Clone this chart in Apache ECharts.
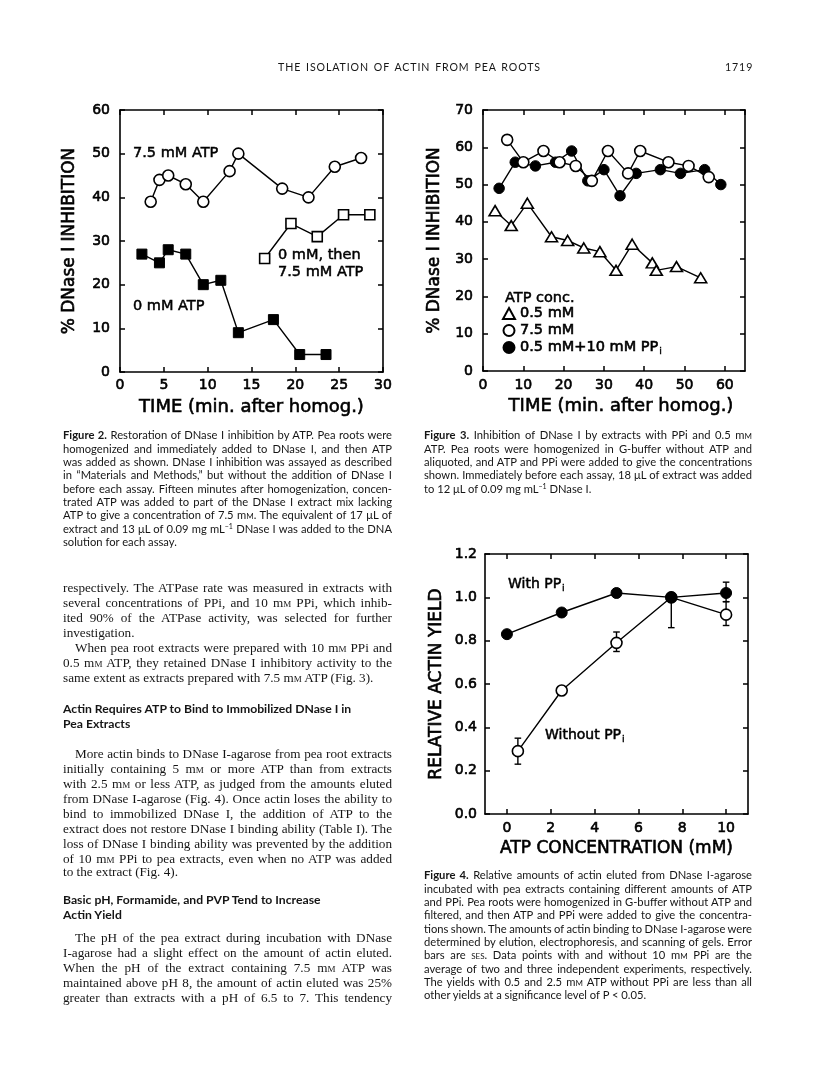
<!DOCTYPE html>
<html><head><meta charset="utf-8">
<script src="https://cdn.jsdelivr.net/npm/echarts@6/dist/echarts.min.js"></script>
<style>
html,body{margin:0;padding:0;background:#fff;}
#chart{position:absolute;left:0;top:0;width:816px;height:1073px;}
.t{position:absolute;white-space:nowrap;color:#151515;}
.cap{font-family:Lato,sans-serif;font-size:11.2px;}
.body{font-family:"Liberation Serif",serif;font-size:13.2px;}
.hd{font-family:Lato,sans-serif;font-weight:bold;font-size:12.2px;}
.run{font-family:Lato,sans-serif;font-size:10.6px;letter-spacing:0.9px;}
.sc{font-variant:small-caps;}
sup{font-size:7px;vertical-align:4px;line-height:0;}
</style></head><body>
<div id="chart"></div>
<div id="text"></div>
<script>
// ---------------- DATA ----------------
// Figure 2: % DNase I inhibition vs time (min after homogenization)
const fig2X_atp75 = [3.5, 4.5, 5.5, 7.5, 9.5, 12.5, 13.5, 18.5, 21.5, 24.5, 27.5];
const fig2Y_atp75 = [39, 44, 45, 43, 39, 46, 50, 42, 40, 47, 49];
const fig2X_then75 = [16.5, 19.5, 22.5, 25.5, 28.5];
const fig2Y_then75 = [26, 34, 31, 36, 36];
const fig2X_atp0 = [2.5, 4.5, 5.5, 7.5, 9.5, 11.5, 13.5, 17.5, 20.5, 23.5];
const fig2Y_atp0 = [27, 25, 28, 27, 20, 21, 9, 12, 4, 4];

// Figure 3: % DNase I inhibition vs time
const fig3X_atp05 = [3, 7, 11, 17, 21, 25, 29, 33, 37, 42, 43, 48, 54];
const fig3Y_atp05 = [43, 39, 45, 36, 35, 33, 32, 27, 34, 29, 27, 28, 25];
const fig3X_atp75 = [6, 10, 15, 19, 23, 27, 31, 36, 39, 46, 51, 56];
const fig3Y_atp75 = [62, 56, 59, 56, 55, 51, 59, 53, 59, 56, 55, 52];
const fig3X_ppi = [4, 8, 13, 18, 22, 26, 30, 34, 38, 44, 49, 55, 59];
const fig3Y_ppi = [49, 56, 55, 56, 59, 51, 54, 47, 53, 54, 53, 54, 50];
const fig3Legend = ['0.5 mM', '7.5 mM', '0.5 mM+10 mM PPi'];

// Figure 4: relative actin yield vs ATP concentration (mM)
const fig4X_with = [0, 2.5, 5, 7.5, 10];
const fig4Y_with = [0.83, 0.93, 1.02, 1.00, 1.02];
const fig4ErrLow_with = [null, null, null, null, 0.98];
const fig4ErrHigh_with = [null, null, null, null, 1.07];
const fig4X_without = [0.5, 2.5, 5, 7.5, 10];
const fig4Y_without = [0.29, 0.57, 0.79, 1.00, 0.92];
const fig4ErrLow_without = [0.23, null, 0.75, 0.86, 0.87];
const fig4ErrHigh_without = [0.35, null, 0.84, 1.00, 0.98];
const fig4XTicks = [0, 2, 4, 6, 8, 10];

// ---------------- CHART ----------------
const BLACK = '#000';
const FONT = 'DejaVu Sans';
const THICK = {textBorderColor: BLACK, textBorderWidth: 0.6};
const frameLine = {show: true, onZero: false, lineStyle: {color: BLACK, width: 1.6}};
const inTick = {show: true, inside: true, length: 5, lineStyle: {color: BLACK, width: 1.5}};

function axisPair(dim, gridIndex, cfg) {
  const tick = Object.assign({}, inTick, cfg.tick || {});
  const main = Object.assign({
    type: 'value', gridIndex: gridIndex, position: dim === 'x' ? 'bottom' : 'left',
    axisLine: frameLine, axisTick: tick, splitLine: {show: false},
    axisLabel: Object.assign({show: true, color: BLACK, fontFamily: FONT, fontSize: 14, margin: cfg.margin}, THICK, cfg.label || {}),
    name: cfg.name, nameLocation: 'middle', nameGap: cfg.nameGap,
    nameTextStyle: Object.assign({color: BLACK, fontFamily: FONT, fontSize: cfg.nameSize, padding: cfg.namePad || 0}, THICK)
  }, cfg.scale);
  const mirror = Object.assign({
    type: 'value', gridIndex: gridIndex, position: dim === 'x' ? 'top' : 'right',
    axisLine: frameLine, axisTick: tick, splitLine: {show: false}, axisLabel: {show: false}
  }, cfg.scale);
  return [main, mirror];
}

const hollow = {color: '#fff', borderColor: BLACK, borderWidth: 1.6};
const solid = {color: BLACK, borderColor: BLACK, borderWidth: 1};
const lineSt = {color: BLACK, width: 1.4};

function lineSeries(name, xs, ys, axisIdx, symbol, size, itemStyle) {
  return {
    type: 'line', name: name, xAxisIndex: axisIdx, yAxisIndex: axisIdx,
    data: xs.map((x, i) => [x, ys[i]]), symbol: symbol, symbolSize: size, showAllSymbol: true,
    itemStyle: itemStyle, lineStyle: lineSt, animation: false, emphasis: {disabled: true}, z: 3
  };
}

function errData(xs, lo, hi) {
  const out = [];
  xs.forEach((x, i) => { if (lo[i] != null) out.push([x, lo[i], hi[i]]); });
  return out;
}

function renderErr(params, api) {
  const a = api.coord([api.value(0), api.value(1)]);
  const b = api.coord([api.value(0), api.value(2)]);
  const w = 3.3;
  const st = {stroke: BLACK, lineWidth: 1.4};
  return {type: 'group', children: [
    {type: 'line', shape: {x1: a[0], y1: a[1], x2: b[0], y2: b[1]}, style: st},
    {type: 'line', shape: {x1: a[0] - w, y1: a[1], x2: a[0] + w, y2: a[1]}, style: st},
    {type: 'line', shape: {x1: b[0] - w, y1: b[1], x2: b[0] + w, y2: b[1]}, style: st}
  ]};
}

const x2 = axisPair('x', 0, {scale: {min: 0, max: 30, interval: 5}, margin: 6,
  name: 'TIME (min. after homog.)', nameGap: 26, nameSize: 18});
const y2 = axisPair('y', 0, {scale: {min: 0, max: 60, interval: 10}, margin: 10,
  name: '% DNase I INHIBITION', nameGap: 42, nameSize: 17});
const x3 = axisPair('x', 1, {scale: {min: 0, max: 65, interval: 10}, margin: 7,
  label: {showMaxLabel: false}, name: 'TIME (min. after homog.)', nameGap: 26, nameSize: 18, namePad: [0, 0, 0, 14]});
const y3 = axisPair('y', 1, {scale: {min: 0, max: 70, interval: 10}, margin: 10,
  name: '% DNase I INHIBITION', nameGap: 40, nameSize: 17});
const x4 = axisPair('x', 2, {scale: {min: -1, max: 11}, margin: 7,
  tick: {customValues: fig4XTicks}, label: {customValues: fig4XTicks},
  name: 'ATP CONCENTRATION (mM)', nameGap: 26, nameSize: 17});
const y4 = axisPair('y', 2, {scale: {min: 0, max: 1.2, interval: 0.2}, margin: 8,
  label: {formatter: v => v.toFixed(1)}, name: 'RELATIVE ACTIN YIELD', nameGap: 40, nameSize: 17});

function anno(text, x, y, size, rich) {
  return {type: 'text', x: x, y: y, silent: true,
    style: {text: text, textVerticalAlign: 'middle', verticalAlign: 'middle', rich: rich,
      fontFamily: FONT, fontSize: size, fill: BLACK, stroke: BLACK, lineWidth: 0.5}};
}
const subRich = {s: {fontFamily: FONT, fontSize: 9.5, fill: BLACK, stroke: BLACK, lineWidth: 0.4, padding: [9, 0, 0, 1]}};

const option = {
  backgroundColor: '#fff',
  animation: false,
  grid: [
    {left: 120, top: 110, width: 263, height: 262, outerBoundsMode: 'none'},
    {left: 483, top: 110, width: 262, height: 261, outerBoundsMode: 'none'},
    {left: 485, top: 554, width: 263, height: 260, outerBoundsMode: 'none'}
  ],
  xAxis: [...x2, ...x3, ...x4],
  yAxis: [...y2, ...y3, ...y4],
  legend: [{
    data: [{name: fig3Legend[0], icon: 'triangle'}, {name: fig3Legend[1], icon: 'circle'}, {name: fig3Legend[2], icon: 'circle'}],
    orient: 'vertical', left: 502, top: 305, itemWidth: 12, itemHeight: 11, itemGap: 0, itemTextGap: 12,
    selectedMode: false, padding: 0,
    textStyle: Object.assign({fontFamily: FONT, fontSize: 14.5, color: BLACK, lineHeight: 17,
      rich: {s: {fontFamily: FONT, fontSize: 9.5, color: BLACK, textBorderColor: BLACK, textBorderWidth: 0.4, padding: [9, 0, 0, 1]}}}, THICK),
    formatter: n => n === fig3Legend[2] ? '0.5 mM+10 mM PP{s|i}' : n
  }],
  graphic: [
    anno('7.5 mM ATP', 133, 153, 14.5),
    anno('0 mM, then', 278, 255, 14.5),
    anno('7.5 mM ATP', 278, 272, 14.5),
    anno('0 mM ATP', 133, 306, 14.5),
    anno('ATP conc.', 505, 298, 14.5),
    anno('With PP{s|i}', 508, 584, 14, subRich),
    anno('Without PP{s|i}', 545, 735, 14, subRich)
  ],
  series: [
    lineSeries('0 mM ATP', fig2X_atp0, fig2Y_atp0, 0, 'rect', 10, solid),
    lineSeries('7.5 mM ATP', fig2X_atp75, fig2Y_atp75, 0, 'circle', 11, hollow),
    lineSeries('0 mM, then 7.5 mM ATP', fig2X_then75, fig2Y_then75, 0, 'rect', 10, hollow),

    lineSeries(fig3Legend[0], fig3X_atp05, fig3Y_atp05, 2, 'triangle', [12, 10], hollow),
    lineSeries(fig3Legend[2], fig3X_ppi, fig3Y_ppi, 2, 'circle', 10.5, solid),
    lineSeries(fig3Legend[1], fig3X_atp75, fig3Y_atp75, 2, 'circle', 11, hollow),

    {type: 'custom', name: 'err', xAxisIndex: 4, yAxisIndex: 4, renderItem: renderErr, z: 2, animation: false,
      data: errData(fig4X_without, fig4ErrLow_without, fig4ErrHigh_without).concat(errData(fig4X_with, fig4ErrLow_with, fig4ErrHigh_with))},
    lineSeries('Without PPi', fig4X_without, fig4Y_without, 4, 'circle', 11, hollow),
    lineSeries('With PPi', fig4X_with, fig4Y_with, 4, 'circle', 11, solid)
  ]
};

const chart = echarts.init(document.getElementById('chart'), null, {renderer: 'canvas'});
chart.setOption(option);

// ---------------- PAGE TEXT ----------------
const M = 'm<span class="sc">m</span>';
const T = document.getElementById('text');
function line(x, yc, w, html, cls, justify, lh, indent) {
  const d = document.createElement('div');
  d.className = 't ' + cls;
  d.style.left = (x + (indent || 0)) + 'px';
  d.style.top = (yc - lh / 2) + 'px';
  d.style.lineHeight = lh + 'px';
  d.innerHTML = html;
  T.appendChild(d);
  if (justify) {
    const nat = d.getBoundingClientRect().width;
    const spaces = (d.textContent.match(/ /g) || []).length;
    const target = w - (indent || 0);
    if (spaces > 0) d.style.wordSpacing = ((target - nat) / spaces) + 'px';
  }
}
function block(x, y0, w, lh, cls, lines) {
  lines.forEach((s, i) => {
    let last = false, ind = 0;
    if (s.startsWith('|')) { ind = 12; s = s.slice(1); }
    if (s.endsWith('$')) { last = true; s = s.slice(0, -1); }
    const y = Array.isArray(y0) ? y0[i] : y0 + i * lh;
    line(x, y, w, s, cls, !last, lh, ind);
  });
}

// running head
line(278, 67, 263, 'THE ISOLATION OF ACTIN FROM PEA ROOTS', 'run', true, 12);
line(725, 67, 20, '1719', 'run', false, 12);

block(63, 435, 329, 13.33, 'cap', [
  '<b>Figure 2.</b> Restoration of DNase I inhibition by ATP. Pea roots were',
  'homogenized and immediately added to DNase I, and then ATP',
  'was added as shown. DNase I inhibition was assayed as described',
  'in “Materials and Methods,” but without the addition of DNase I',
  'before each assay. Fifteen minutes after homogenization, concen-',
  'trated ATP was added to part of the DNase I extract mix lacking',
  'ATP to give a concentration of 7.5 ' + M + '. The equivalent of 17 μL of',
  'extract and 13 μL of 0.09 mg mL<sup>−1</sup> DNase I was added to the DNA',
  'solution for each assay.$'
]);

block(424, 435, 328, 13.33, 'cap', [
  '<b>Figure 3.</b> Inhibition of DNase I by extracts with PPi and 0.5 ' + M,
  'ATP. Pea roots were homogenized in G-buffer without ATP and',
  'aliquoted, and ATP and PPi were added to give the concentrations',
  'shown. Immediately before each assay, 18 μL of extract was added',
  'to 12 μL of 0.09 mg mL<sup>−1</sup> DNase I.$'
]);

block(424, 875, 328, 13.33, 'cap', [
  '<b>Figure 4.</b> Relative amounts of actin eluted from DNase I-agarose',
  'incubated with pea extracts containing different amounts of ATP',
  'and PPi. Pea roots were homogenized in G-buffer without ATP and',
  'filtered, and then ATP and PPi were added to give the concentra-',
  'tions shown. The amounts of actin binding to DNase I-agarose were',
  'determined by elution, electrophoresis, and scanning of gels. Error',
  'bars are <span class="sc">ses</span>. Data points with and without 10 ' + M + ' PPi are the',
  'average of two and three independent experiments, respectively.',
  'The yields with 0.5 and 2.5 ' + M + ' ATP without PPi are less than all',
  'other yields at a significance level of P &lt; 0.05.$'
]);

block(63, [587, 602, 617, 632, 647, 662, 677], 329, 15, 'body', [
  'respectively. The ATPase rate was measured in extracts with',
  'several concentrations of PPi, and 10 ' + M + ' PPi, which inhib-',
  'ited 90% of the ATPase activity, was selected for further',
  'investigation.$',
  '|When pea root extracts were prepared with 10 ' + M + ' PPi and',
  '0.5 ' + M + ' ATP, they retained DNase I inhibitory activity to the',
  'same extent as extracts prepared with 7.5 ' + M + ' ATP (Fig. 3).$'
]);
block(63, [708, 723], 329, 15, 'hd', [
  'Actin Requires ATP to Bind to Immobilized DNase I in$',
  'Pea Extracts$'
]);
block(63, [753, 768, 783, 798, 813, 828, 843, 858, 871], 329, 15, 'body', [
  '|More actin binds to DNase I-agarose from pea root extracts',
  'initially containing 5 ' + M + ' or more ATP than from extracts',
  'with 2.5 ' + M + ' or less ATP, as judged from the amounts eluted',
  'from DNase I-agarose (Fig. 4). Once actin loses the ability to',
  'bind to immobilized DNase I, the addition of ATP to the',
  'extract does not restore DNase I binding ability (Table I). The',
  'loss of DNase I binding ability was prevented by the addition',
  'of 10 ' + M + ' PPi to pea extracts, even when no ATP was added',
  'to the extract (Fig. 4).$'
]);
block(63, [899, 914], 329, 15, 'hd', [
  'Basic pH, Formamide, and PVP Tend to Increase$',
  'Actin Yield$'
]);
block(63, [937, 952, 967, 982, 997], 329, 15, 'body', [
  '|The pH of the pea extract during incubation with DNase',
  'I-agarose had a slight effect on the amount of actin eluted.',
  'When the pH of the extract containing 7.5 ' + M + ' ATP was',
  'maintained above pH 8, the amount of actin eluted was 25%',
  'greater than extracts with a pH of 6.5 to 7. This tendency'
]);
</script>
</body></html>
